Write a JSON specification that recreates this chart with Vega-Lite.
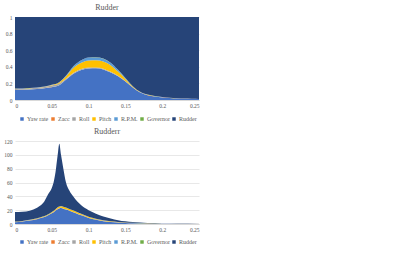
{
  "$schema": "https://vega.github.io/schema/vega-lite/v6.json",
  "padding": {"top": 4, "left": 3, "right": 5, "bottom": 0},
  "spacing": 6,
  "datasets": {
    "top": [
      {"x": 0, "yaw": 0.12, "zacc": 0.001, "roll": 0.012, "pitch": 0.002, "rpm": 0.002, "gov": 0.001, "rud": 0.862},
      {"x": 0.01, "yaw": 0.122, "zacc": 0.001, "roll": 0.012, "pitch": 0.002, "rpm": 0.002, "gov": 0.001, "rud": 0.86},
      {"x": 0.02, "yaw": 0.126, "zacc": 0.001, "roll": 0.012, "pitch": 0.002, "rpm": 0.002, "gov": 0.001, "rud": 0.856},
      {"x": 0.03, "yaw": 0.133, "zacc": 0.001, "roll": 0.013, "pitch": 0.002, "rpm": 0.002, "gov": 0.001, "rud": 0.848},
      {"x": 0.04, "yaw": 0.142, "zacc": 0.001, "roll": 0.015, "pitch": 0.003, "rpm": 0.002, "gov": 0.001, "rud": 0.836},
      {"x": 0.05, "yaw": 0.155, "zacc": 0.001, "roll": 0.02, "pitch": 0.005, "rpm": 0.002, "gov": 0.001, "rud": 0.816},
      {"x": 0.06, "yaw": 0.178, "zacc": 0.001, "roll": 0.02, "pitch": 0.012, "rpm": 0.003, "gov": 0.001, "rud": 0.785},
      {"x": 0.07, "yaw": 0.25, "zacc": 0.001, "roll": 0.01, "pitch": 0.03, "rpm": 0.01, "gov": 0.001, "rud": 0.698},
      {"x": 0.08, "yaw": 0.32, "zacc": 0.001, "roll": 0.01, "pitch": 0.06, "rpm": 0.02, "gov": 0.001, "rud": 0.588},
      {"x": 0.09, "yaw": 0.36, "zacc": 0.001, "roll": 0.012, "pitch": 0.075, "rpm": 0.03, "gov": 0.001, "rud": 0.521},
      {"x": 0.1, "yaw": 0.38, "zacc": 0.001, "roll": 0.01, "pitch": 0.085, "rpm": 0.035, "gov": 0.001, "rud": 0.488},
      {"x": 0.11, "yaw": 0.382, "zacc": 0.001, "roll": 0.01, "pitch": 0.085, "rpm": 0.035, "gov": 0.001, "rud": 0.486},
      {"x": 0.12, "yaw": 0.367, "zacc": 0.001, "roll": 0.01, "pitch": 0.085, "rpm": 0.035, "gov": 0.001, "rud": 0.501},
      {"x": 0.13, "yaw": 0.33, "zacc": 0.001, "roll": 0.008, "pitch": 0.08, "rpm": 0.03, "gov": 0.001, "rud": 0.55},
      {"x": 0.14, "yaw": 0.285, "zacc": 0.001, "roll": 0.006, "pitch": 0.05, "rpm": 0.02, "gov": 0.001, "rud": 0.637},
      {"x": 0.15, "yaw": 0.222, "zacc": 0.001, "roll": 0.005, "pitch": 0.025, "rpm": 0.01, "gov": 0.001, "rud": 0.736},
      {"x": 0.16, "yaw": 0.15, "zacc": 0.001, "roll": 0.003, "pitch": 0.008, "rpm": 0.004, "gov": 0.001, "rud": 0.833},
      {"x": 0.17, "yaw": 0.09, "zacc": 0.001, "roll": 0.002, "pitch": 0.003, "rpm": 0.002, "gov": 0.001, "rud": 0.901},
      {"x": 0.18, "yaw": 0.058, "zacc": 0.001, "roll": 0.002, "pitch": 0.002, "rpm": 0.001, "gov": 0.001, "rud": 0.935},
      {"x": 0.19, "yaw": 0.042, "zacc": 0.001, "roll": 0.001, "pitch": 0.001, "rpm": 0.001, "gov": 0.001, "rud": 0.953},
      {"x": 0.2, "yaw": 0.031, "zacc": 0.001, "roll": 0.001, "pitch": 0.001, "rpm": 0.001, "gov": 0, "rud": 0.965},
      {"x": 0.21, "yaw": 0.024, "zacc": 0, "roll": 0.001, "pitch": 0.001, "rpm": 0, "gov": 0, "rud": 0.974},
      {"x": 0.22, "yaw": 0.019, "zacc": 0, "roll": 0.001, "pitch": 0.001, "rpm": 0, "gov": 0, "rud": 0.979},
      {"x": 0.23, "yaw": 0.016, "zacc": 0, "roll": 0.001, "pitch": 0, "rpm": 0, "gov": 0, "rud": 0.983},
      {"x": 0.24, "yaw": 0.014, "zacc": 0, "roll": 0.001, "pitch": 0, "rpm": 0, "gov": 0, "rud": 0.985},
      {"x": 0.25, "yaw": 0.012, "zacc": 0, "roll": 0.001, "pitch": 0, "rpm": 0, "gov": 0, "rud": 0.987}
    ],
    "bottom": [
      {"x": 0, "yaw": 2.5, "zacc": 0.1, "roll": 0.4, "pitch": 0.3, "rpm": 0.1, "gov": 0.1, "rud": 13.8},
      {"x": 0.01, "yaw": 3.5, "zacc": 0.1, "roll": 0.4, "pitch": 0.3, "rpm": 0.1, "gov": 0.1, "rud": 13.3},
      {"x": 0.02, "yaw": 5, "zacc": 0.1, "roll": 0.4, "pitch": 0.4, "rpm": 0.1, "gov": 0.1, "rud": 13.2},
      {"x": 0.03, "yaw": 7, "zacc": 0.1, "roll": 0.4, "pitch": 0.5, "rpm": 0.1, "gov": 0.1, "rud": 15.3},
      {"x": 0.035, "yaw": 8.5, "zacc": 0.1, "roll": 0.4, "pitch": 0.6, "rpm": 0.1, "gov": 0.1, "rud": 17.2},
      {"x": 0.04, "yaw": 10, "zacc": 0.1, "roll": 0.4, "pitch": 0.7, "rpm": 0.1, "gov": 0.1, "rud": 21.6},
      {"x": 0.045, "yaw": 12.5, "zacc": 0.1, "roll": 0.4, "pitch": 0.8, "rpm": 0.1, "gov": 0.1, "rud": 29},
      {"x": 0.05, "yaw": 15.5, "zacc": 0.1, "roll": 0.4, "pitch": 1, "rpm": 0.1, "gov": 0.1, "rud": 34.8},
      {"x": 0.053, "yaw": 17.5, "zacc": 0.1, "roll": 0.4, "pitch": 1.3, "rpm": 0.1, "gov": 0.1, "rud": 43.5},
      {"x": 0.0557, "yaw": 19.8, "zacc": 0.1, "roll": 0.4, "pitch": 1.6, "rpm": 0.1, "gov": 0.1, "rud": 57.9},
      {"x": 0.058, "yaw": 21.5, "zacc": 0.1, "roll": 0.4, "pitch": 2, "rpm": 0.1, "gov": 0.1, "rud": 75.8},
      {"x": 0.0602, "yaw": 22.5, "zacc": 0.1, "roll": 0.4, "pitch": 2.2, "rpm": 0.1, "gov": 0.1, "rud": 90.6},
      {"x": 0.0625, "yaw": 23, "zacc": 0.1, "roll": 0.4, "pitch": 2.3, "rpm": 0.1, "gov": 0.1, "rud": 74},
      {"x": 0.0657, "yaw": 22, "zacc": 0.1, "roll": 0.4, "pitch": 2.3, "rpm": 0.1, "gov": 0.1, "rud": 55},
      {"x": 0.0693, "yaw": 20.8, "zacc": 0.1, "roll": 0.4, "pitch": 2.2, "rpm": 0.1, "gov": 0.1, "rud": 36.3},
      {"x": 0.074, "yaw": 19, "zacc": 0.1, "roll": 0.4, "pitch": 2.1, "rpm": 0.1, "gov": 0.1, "rud": 26.2},
      {"x": 0.079, "yaw": 17, "zacc": 0.1, "roll": 0.4, "pitch": 2, "rpm": 0.1, "gov": 0.1, "rud": 20.3},
      {"x": 0.085, "yaw": 14.5, "zacc": 0.1, "roll": 0.4, "pitch": 1.8, "rpm": 0.1, "gov": 0.1, "rud": 15},
      {"x": 0.09, "yaw": 12.5, "zacc": 0.1, "roll": 0.4, "pitch": 1.6, "rpm": 0.1, "gov": 0.1, "rud": 12.2},
      {"x": 0.1, "yaw": 8.7, "zacc": 0.1, "roll": 0.4, "pitch": 1.2, "rpm": 0.1, "gov": 0.1, "rud": 9.4},
      {"x": 0.11, "yaw": 6, "zacc": 0.1, "roll": 0.4, "pitch": 0.9, "rpm": 0.1, "gov": 0.1, "rud": 7.4},
      {"x": 0.12, "yaw": 4, "zacc": 0.1, "roll": 0.4, "pitch": 0.7, "rpm": 0.1, "gov": 0.1, "rud": 5.6},
      {"x": 0.13, "yaw": 2.8, "zacc": 0.1, "roll": 0.4, "pitch": 0.5, "rpm": 0.1, "gov": 0.1, "rud": 4},
      {"x": 0.14, "yaw": 2, "zacc": 0.1, "roll": 0.4, "pitch": 0.35, "rpm": 0.1, "gov": 0.1, "rud": 2.45},
      {"x": 0.15, "yaw": 1.4, "zacc": 0.1, "roll": 0.4, "pitch": 0.25, "rpm": 0.1, "gov": 0.1, "rud": 1.45},
      {"x": 0.16, "yaw": 1.0, "zacc": 0.05, "roll": 0.3, "pitch": 0.2, "rpm": 0.05, "gov": 0.05, "rud": 1.15},
      {"x": 0.18, "yaw": 0.5, "zacc": 0.03, "roll": 0.3, "pitch": 0.12, "rpm": 0.03, "gov": 0.03, "rud": 0.59},
      {"x": 0.2, "yaw": 0.3, "zacc": 0.02, "roll": 0.25, "pitch": 0.07, "rpm": 0.02, "gov": 0.02, "rud": 0.22},
      {"x": 0.22, "yaw": 0.15, "zacc": 0.02, "roll": 0.2, "pitch": 0.04, "rpm": 0.02, "gov": 0.02, "rud": 0.1},
      {"x": 0.25, "yaw": 0.1, "zacc": 0.01, "roll": 0.12, "pitch": 0.03, "rpm": 0.01, "gov": 0.01, "rud": 0.02}
    ]
  },
  "vconcat": [
    {
      "title": "Rudder",
      "width": 184,
      "height": 83,
      "data": {"name": "top"},
      "transform": [
        {"fold": ["yaw", "zacc", "roll", "pitch", "rpm", "gov", "rud"], "as": ["series", "value"]},
        {"calculate": "indexof(['yaw','zacc','roll','pitch','rpm','gov','rud'], datum.series)", "as": "ord"}
      ],
      "mark": {"type": "area", "interpolate": "monotone"},
      "encoding": {
        "x": {"field": "x", "type": "quantitative", "scale": {"domain": [0, 0.25], "nice": false}, "axis": {"values": [0, 0.05, 0.1, 0.15, 0.2, 0.25], "format": "~g", "title": null, "grid": false, "domain": true, "domainColor": "#d9d9d9"}},
        "y": {"field": "value", "type": "quantitative", "stack": "zero", "scale": {"domain": [0, 1], "nice": false}, "axis": {"values": [0, 0.2, 0.4, 0.6, 0.8, 1], "format": "~g", "title": null, "domain": false}},
        "color": {"field": "series", "type": "nominal", "scale": {"domain": ["yaw", "zacc", "roll", "pitch", "rpm", "gov", "rud"], "range": ["#4472C4", "#ED7D31", "#A5A5A5", "#FFC000", "#5B9BD5", "#70AD47", "#264478"]}, "legend": {"title": null, "orient": "none", "legendX": 4, "legendY": 99, "direction": "horizontal", "labelExpr": "datum.label == 'yaw' ? 'Yaw rate' : datum.label == 'zacc' ? 'Zacc' : datum.label == 'roll' ? 'Roll' : datum.label == 'pitch' ? 'Pitch' : datum.label == 'rpm' ? 'R.P.M.' : datum.label == 'gov' ? 'Governor' : 'Rudder'"}},
        "order": {"field": "ord", "type": "quantitative"}
      }
    },
    {
      "title": "Rudderr",
      "width": 184,
      "height": 83,
      "data": {"name": "bottom"},
      "transform": [
        {"fold": ["yaw", "zacc", "roll", "pitch", "rpm", "gov", "rud"], "as": ["series", "value"]},
        {"calculate": "indexof(['yaw','zacc','roll','pitch','rpm','gov','rud'], datum.series)", "as": "ord"}
      ],
      "mark": {"type": "area", "interpolate": "monotone"},
      "encoding": {
        "x": {"field": "x", "type": "quantitative", "scale": {"domain": [0, 0.25], "nice": false}, "axis": {"values": [0, 0.05, 0.1, 0.15, 0.2, 0.25], "format": "~g", "title": null, "grid": false, "domain": true, "domainColor": "#d9d9d9"}},
        "y": {"field": "value", "type": "quantitative", "stack": "zero", "scale": {"domain": [0, 120], "nice": false}, "axis": {"values": [0, 20, 40, 60, 80, 100, 120], "title": null, "domain": false}},
        "color": {"field": "series", "type": "nominal", "scale": {"domain": ["yaw", "zacc", "roll", "pitch", "rpm", "gov", "rud"], "range": ["#4472C4", "#ED7D31", "#A5A5A5", "#FFC000", "#5B9BD5", "#70AD47", "#264478"]}, "legend": {"title": null, "orient": "none", "legendX": 4, "legendY": 98, "direction": "horizontal", "labelExpr": "datum.label == 'yaw' ? 'Yaw rate' : datum.label == 'zacc' ? 'Zacc' : datum.label == 'roll' ? 'Roll' : datum.label == 'pitch' ? 'Pitch' : datum.label == 'rpm' ? 'R.P.M.' : datum.label == 'gov' ? 'Governor' : 'Rudder'"}},
        "order": {"field": "ord", "type": "quantitative"}
      }
    }
  ],
  "resolve": {"scale": {"color": "independent"}, "legend": {"color": "independent"}},
  "config": {
    "font": "Liberation Serif",
    "view": {"stroke": null},
    "title": {"fontSize": 8, "fontWeight": "normal", "color": "#595959", "offset": 3},
    "axis": {"labelFontSize": 5.5, "labelColor": "#595959", "ticks": false, "labelPadding": 3, "gridColor": "#d9d9d9", "gridWidth": 0.6},
    "legend": {"labelFontSize": 6, "labelColor": "#595959", "symbolType": "square", "symbolSize": 12, "symbolStrokeWidth": 0, "columnPadding": 1, "labelOffset": 2, "padding": 0, "gridAlign": "none"}
  }
}
